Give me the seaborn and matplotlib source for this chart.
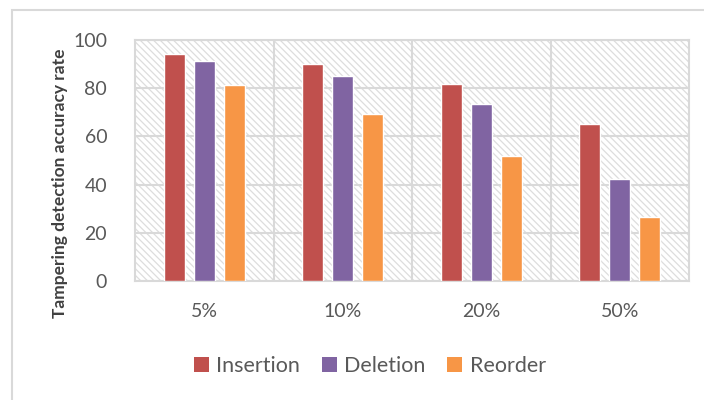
import matplotlib
matplotlib.use("Agg")
import matplotlib.pyplot as plt
from matplotlib.patches import Rectangle, Patch
import seaborn as sns
import pandas as pd

# Chart data
levels = ["5%", "10%", "20%", "50%"]
insertion = [94.2, 89.9, 81.7, 65.0]
deletion = [91.4, 84.9, 73.4, 42.2]
reorder = [81.3, 69.2, 52.0, 26.4]
series_names = ["Insertion", "Deletion", "Reorder"]
series_colors = ["#C0504D", "#8064A2", "#F79646"]
y_ticks = [0, 20, 40, 60, 80, 100]
y_label = "Tampering detection accuracy rate"

df = pd.DataFrame({
    "level": levels * 3,
    "type": [s for s, vals in zip(series_names, [insertion, deletion, reorder]) for _ in vals],
    "value": insertion + deletion + reorder,
})

sns.set_theme(style="white")
plt.rcParams["font.family"] = ["Lato", "DejaVu Sans"]
plt.rcParams["hatch.linewidth"] = 0.9
plt.rcParams["hatch.color"] = "#DDDDDD"

W, H = 704, 400
fig = plt.figure(figsize=(W / 100, H / 100), dpi=100)
fig.patch.set_facecolor("white")

# outer chart frame
fig.patches.append(Rectangle((12 / W, -0.05), 1.0, 1 - 10 / H + 0.05,
                             transform=fig.transFigure, fill=False,
                             edgecolor="#D9D9D9", linewidth=1.5))

left, right, top, bottom = 135, 689, 40, 281
ax = fig.add_axes([left / W, 1 - bottom / H, (right - left) / W, (bottom - top) / H])

# hatched plot-area background
ax.add_patch(Rectangle((0, 0), 1, 1, transform=ax.transAxes, facecolor="white",
                       edgecolor="#DDDDDD", hatch="\\\\\\\\\\", linewidth=0, zorder=0))

sns.barplot(data=df, x="level", y="value", hue="type", order=levels,
            hue_order=series_names, palette=series_colors, width=0.65, gap=0.3,
            saturation=1, ax=ax, zorder=3, legend=False)

ax.set_ylim(0, 100)
ax.set_xlim(-0.5, len(levels) - 0.5)
ax.set_yticks(y_ticks)
ax.set_yticklabels([str(t) for t in y_ticks], fontsize=14, color="#595959")
ax.tick_params(axis="y", length=0, pad=20)
ax.tick_params(axis="x", length=0, pad=16, labelsize=14, labelcolor="#595959")
ax.set_xlabel("")
ax.set_ylabel("")

# grid: horizontal at ticks, vertical at category boundaries
for t in y_ticks:
    ax.axhline(t, color="#D9D9D9", linewidth=1.5, zorder=1)
for b in range(len(levels) - 1):
    ax.axvline(b + 0.5, color="#D9D9D9", linewidth=1.5, zorder=1)
for s in ax.spines.values():
    s.set_color("#D9D9D9")
    s.set_linewidth(1.5)
    s.set_visible(True)

fig.text(60 / W, 1 - 183 / H, y_label, rotation=90, ha="center", va="center",
         fontsize=12.5, fontweight="bold", color="#404040")

handles = [Patch(facecolor=c, edgecolor="none") for c in series_colors]
fig.legend(handles, series_names, loc="center", bbox_to_anchor=(370 / W, 1 - 366 / H),
           ncol=3, frameon=False, fontsize=15.5, handlelength=0.7, handleheight=0.7,
           handletextpad=0.35, columnspacing=1.0, labelcolor="#595959")

fig.savefig("out.png", dpi=100)
